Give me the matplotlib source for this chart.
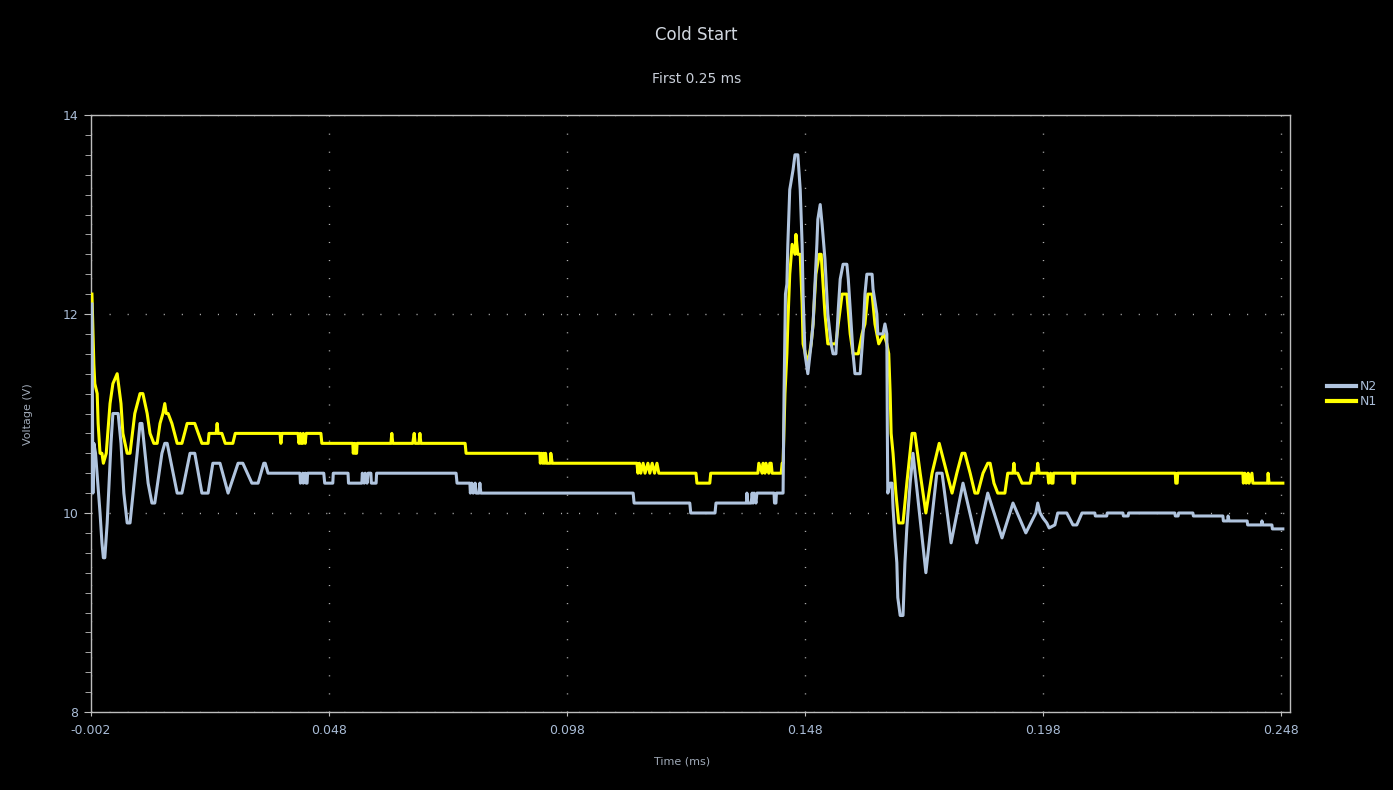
import numpy as np
import matplotlib.pyplot as plt
from matplotlib.ticker import MultipleLocator

t_n1 = [-1.8, -1.4, -1.2, -0.7, -0.5, -0.1, 0.3, 0.6, 1.2, 2.0, 2.6, 3.5, 4.3, 4.7,
        5.6, 6.2, 7.2, 8.3, 8.9, 9.8, 10.4, 11.2, 11.9, 12.5, 13.1, 13.5, 13.8, 14.2,
        15.0, 16.1, 17.1, 18.2, 19.8, 21.3, 22.6, 22.8, 24.3, 24.5, 24.7, 25.5, 26.2,
        27.8, 28.3, 37.7, 37.9, 38.1, 41.5, 41.7, 42.0, 42.1, 42.5, 42.6, 43.0, 43.2,
        46.3, 46.5, 53.0, 53.1, 53.4, 53.5, 53.8, 53.9, 61.0, 61.2, 61.4, 65.6, 65.9,
        66.1, 66.9, 67.1, 67.3, 76.6, 76.8, 92.3, 92.4, 92.6, 92.9, 93.1, 93.3, 93.5,
        93.7, 94.5, 94.6, 94.9, 112.7, 112.9, 113.2, 113.5, 114.0, 114.4, 115.0, 115.4,
        115.9, 116.4, 116.9, 117.3, 125.1, 125.3, 128.0, 128.2, 138.1, 138.3, 139.0,
        139.2, 139.6, 139.8, 140.4, 140.6, 140.9, 141.1, 143.0, 143.2, 143.4, 143.8,
        144.2, 144.4, 144.8, 145.3, 145.9, 146.1, 146.3, 146.5, 147.0, 147.4, 147.6,
        148.6, 149.3, 149.7, 150.3, 151.0, 151.4, 151.8, 152.2, 152.8, 153.7, 154.5,
        155.0, 155.8, 156.8, 157.5, 158.1, 159.2, 160.0, 160.6, 161.2, 162.1, 162.7,
        163.5, 164.6, 165.2, 165.6, 165.9, 166.1, 166.5, 167.1, 167.7, 168.6, 169.4,
        170.5, 171.1, 172.2, 173.4, 174.7, 176.2, 178.9, 179.9, 181.0, 181.6, 182.7,
        183.7, 184.3, 185.4, 186.4, 186.9, 187.7, 188.5, 190.0, 190.6, 191.7, 191.9,
        192.1, 192.7, 193.6, 195.3, 195.7, 196.7, 196.9, 197.2, 199.0, 199.2, 199.6,
        199.8, 200.1, 200.2, 204.2, 204.3, 204.6, 204.7, 225.8, 225.9, 226.2, 226.3,
        240.0, 240.1, 240.4, 240.7, 241.1, 241.3, 241.9, 242.1, 245.2, 245.3, 245.5,
        248.4]
v_n1 = [12.2, 11.5, 11.3, 11.2, 10.9, 10.6, 10.6, 10.5, 10.6, 11.1, 11.3, 11.4, 11.1, 10.8,
        10.6, 10.6, 11.0, 11.2, 11.2, 11.0, 10.8, 10.7, 10.7, 10.9, 11.0, 11.1, 11.0, 11.0,
        10.9, 10.7, 10.7, 10.9, 10.9, 10.7, 10.7, 10.8, 10.8, 10.9, 10.8, 10.8, 10.7,
        10.7, 10.8, 10.8, 10.7, 10.8, 10.8, 10.7, 10.8, 10.7, 10.7, 10.8, 10.7, 10.8,
        10.8, 10.7, 10.7, 10.6, 10.7, 10.6, 10.6, 10.7, 10.7, 10.8, 10.7, 10.7, 10.8,
        10.7, 10.7, 10.8, 10.7, 10.7, 10.6, 10.6, 10.5, 10.6, 10.5, 10.6, 10.5, 10.6,
        10.5, 10.5, 10.6, 10.5, 10.5, 10.4, 10.5, 10.4, 10.5, 10.4, 10.5, 10.4,
        10.5, 10.4, 10.5, 10.4, 10.4, 10.3, 10.3, 10.4, 10.4, 10.5, 10.4,
        10.5, 10.4, 10.5, 10.4, 10.5, 10.5, 10.4, 10.4, 10.5, 10.5, 11.2,
        11.6, 11.9, 12.4, 12.7, 12.6, 12.8, 12.7, 12.6, 12.6, 12.1, 11.7,
        11.5, 11.7, 11.9, 12.4, 12.6, 12.6, 12.3, 12.0, 11.7, 11.7, 11.7,
        11.9, 12.2, 12.2, 11.8, 11.6, 11.6, 11.8, 11.9, 12.2, 12.2, 11.9,
        11.7, 11.8, 11.7, 11.6, 11.2, 10.8, 10.6, 10.2, 9.9, 9.9, 10.3,
        10.8, 10.8, 10.4, 10.0, 10.4, 10.7, 10.2, 10.4, 10.6, 10.6, 10.4,
        10.2, 10.2, 10.4, 10.5, 10.5, 10.3, 10.2, 10.2, 10.4, 10.4, 10.5,
        10.4, 10.4, 10.3, 10.3, 10.4, 10.4, 10.5, 10.4, 10.4, 10.3, 10.4,
        10.3, 10.3, 10.4, 10.4, 10.3, 10.3, 10.4, 10.4, 10.3, 10.3, 10.4,
        10.4, 10.3, 10.4, 10.3, 10.4, 10.3, 10.4, 10.3, 10.3, 10.4, 10.3,
        10.3]

t_n2 = [-1.8, -1.6, -1.4, -1.05, -0.1, 0.3, 0.6, 0.9, 1.4, 2.2, 2.6, 3.7, 4.3, 4.9,
        5.6, 6.2, 7.7, 8.3, 8.7, 10.0, 10.8, 11.4, 12.9, 13.5, 14.0, 16.1, 17.1, 18.8,
        19.8, 21.3, 22.6, 23.6, 25.1, 26.8, 28.9, 29.9, 31.8, 33.1, 34.3, 34.6, 35.2,
        41.9, 42.0, 42.5, 42.6, 43.0, 43.2, 43.4, 43.5, 46.9, 47.1, 48.8, 48.9, 52.0,
        52.1, 54.9, 55.0, 55.4, 55.6, 56.0, 56.2, 56.8, 56.9, 57.9, 58.0, 74.7, 74.9,
        77.6, 77.7, 78.0, 78.3, 78.7, 78.9, 79.5, 79.7, 79.9, 111.9, 112.1, 123.8,
        124.0, 129.1, 129.3, 135.4, 135.7, 135.8, 136.0, 136.7, 136.9, 137.1, 137.3,
        137.7, 137.9, 138.5, 141.5, 141.6, 141.9, 142.0, 143.4, 143.6, 143.9, 144.2,
        144.4, 144.8, 145.5, 145.9, 146.5, 147.0, 147.4, 147.6, 148.0, 148.6, 149.3,
        149.7, 150.5, 150.7, 151.2, 151.6, 152.2, 152.8, 153.5, 153.9, 154.5, 155.0,
        155.4, 156.0, 156.8, 157.1, 157.7, 158.1, 158.5, 159.6, 160.2, 160.6, 161.0,
        162.1, 162.3, 163.1, 163.3, 164.4, 164.8, 165.2, 165.3, 165.4, 165.9, 166.3,
        166.5, 166.9, 167.3, 167.5, 168.0, 168.6, 169.0, 169.4, 170.1, 170.7, 173.4,
        175.7, 176.8, 178.7, 181.2, 184.1, 186.4, 189.4, 191.7, 194.4, 196.5, 196.9,
        197.4, 198.0, 198.8, 199.3, 200.5, 201.1, 203.0, 204.3, 205.1, 206.2, 208.9,
        209.0, 211.4, 211.5, 214.8, 214.9, 215.9, 216.0, 225.7, 225.8, 226.4, 226.5,
        229.5, 229.6, 235.8, 235.9, 236.8, 236.9, 237.1, 240.9, 241.0, 243.9, 244.0,
        244.2, 246.1, 246.2, 248.4]
v_n2 = [12.1, 10.2, 10.7, 10.6, 10.0, 9.7, 9.55, 9.55, 9.9, 10.7, 11.0, 11.0, 10.7, 10.2,
        9.9, 9.9, 10.6, 10.9, 10.9, 10.3, 10.1, 10.1, 10.6, 10.7, 10.7, 10.2, 10.2, 10.6,
        10.6, 10.2, 10.2, 10.5, 10.5, 10.2, 10.5, 10.5, 10.3, 10.3, 10.5, 10.5, 10.4,
        10.4, 10.3, 10.4, 10.3, 10.4, 10.3, 10.3, 10.4, 10.4, 10.3, 10.3, 10.4, 10.4,
        10.3, 10.3, 10.4, 10.3, 10.4, 10.3, 10.4, 10.4, 10.3, 10.3, 10.4, 10.4, 10.3,
        10.3, 10.2, 10.3, 10.2, 10.3, 10.2, 10.2, 10.3, 10.2, 10.2, 10.1, 10.1,
        10.0, 10.0, 10.1, 10.1, 10.1, 10.2, 10.1, 10.1, 10.2, 10.1, 10.2,
        10.1, 10.2, 10.2, 10.2, 10.1, 10.1, 10.2, 10.2, 11.2, 12.2, 12.3,
        12.7, 13.25, 13.45, 13.6, 13.6, 13.25, 12.7, 12.2, 11.6, 11.4, 11.7,
        11.9, 12.7, 12.95, 13.1, 12.9, 12.55, 12.0, 11.7, 11.6, 11.6, 12.05,
        12.35, 12.5, 12.5, 12.35, 11.9, 11.6, 11.4, 11.4, 11.8, 12.2, 12.4,
        12.4, 12.25, 12.0, 11.8, 11.8, 11.9, 11.8, 10.85, 10.2, 10.3, 10.3,
        10.05, 9.75, 9.5, 9.15, 8.97, 8.97, 9.5, 9.85, 10.3, 10.6, 9.4,
        10.4, 10.4, 9.7, 10.3, 9.7, 10.2, 9.75, 10.1, 9.8, 10.0, 10.1,
        10.0, 9.95, 9.9, 9.85, 9.88, 10.0, 10.0, 9.88, 9.88, 10.0, 10.0,
        9.97, 9.97, 10.0, 10.0, 9.97, 9.97, 10.0, 10.0, 9.97, 9.97, 10.0,
        10.0, 9.97, 9.97, 9.92, 9.92, 9.97, 9.92, 9.92, 9.88, 9.88, 9.92,
        9.88, 9.88, 9.84, 9.84]

x_ticks = [-0.002, 0.048, 0.098, 0.148, 0.198, 0.248]
y_ticks = [8, 10, 12, 14]

couleur_texte = "#a9bcd6"
couleur_axes = "#bdbdbd"

fig = plt.figure(figsize=(13.93, 7.90), dpi=100, facecolor="black")
ax = fig.add_axes([91 / 1393, 1 - 712 / 790, (1290 - 91) / 1393, (712 - 115) / 790])
ax.set_facecolor("black")

ax.plot(np.array(t_n1) / 1000, v_n1, color="#ffff00", lw=2.2, label="N1", zorder=3)
ax.plot(np.array(t_n2) / 1000, v_n2, color="#b0c4de", lw=2.2, label="N2", zorder=4)

ax.set_xlim(-0.002, 0.2499)
ax.set_ylim(8, 14)
ax.set_xticks(x_ticks)
ax.set_xticklabels([f"{x:.3f}" for x in x_ticks])
ax.set_yticks(y_ticks)
ax.yaxis.set_minor_locator(MultipleLocator(0.2))

for s in ax.spines.values():
    s.set_color(couleur_axes)
    s.set_linewidth(1)
ax.tick_params(axis="both", colors=couleur_axes, labelcolor=couleur_texte, labelsize=9)
ax.tick_params(axis="y", which="major", length=5, pad=4)
ax.tick_params(axis="y", which="minor", length=4, color=couleur_axes)
ax.tick_params(axis="x", which="major", length=3, pad=6)
ax.grid(True, which="major", color="#b0b0b0", linestyle=(0, (0.8, 12.2)), linewidth=1)

fig.text(0.5, 1 - 35 / 790, "Cold Start", ha="center", va="center", color="#d2d8e0", fontsize=12)
fig.text(0.5, 1 - 79 / 790, "First 0.25 ms", ha="center", va="center", color="#c8ced8", fontsize=10)
fig.text(682 / 1393, 1 - 762 / 790, "Time (ms)", ha="center", va="center", color="#a0aab8", fontsize=8)
fig.text(28 / 1393, 1 - 414 / 790, "Voltage (V)", ha="center", va="center", rotation=90,
         color="#a0aab8", fontsize=8)

handles, labels = ax.get_legend_handles_labels()
leg = fig.legend(handles[::-1], labels[::-1], loc="center left",
                 bbox_to_anchor=(1316 / 1393, 1 - 394 / 790), frameon=False,
                 fontsize=9, handlelength=2.3, handletextpad=0.3, labelspacing=0.15,
                 labelcolor=couleur_texte)
for l in leg.get_lines():
    l.set_linewidth(3)

fig.savefig("out.png", dpi=100, facecolor="black")
